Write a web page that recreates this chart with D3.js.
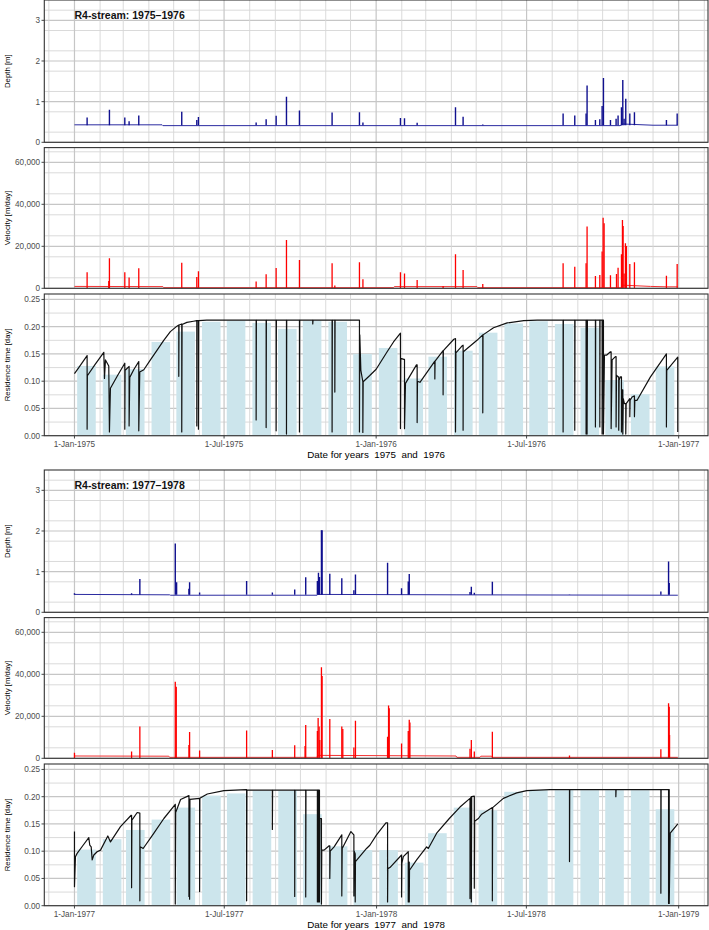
<!DOCTYPE html>
<html><head><meta charset="utf-8">
<script src="https://cdn.jsdelivr.net/npm/d3@7"></script>
<style>
body{margin:0;background:#fff}
text{font-family:"Liberation Sans",Arial,sans-serif}
</style>
</head><body>
<svg id="c" width="709" height="930" xmlns="http://www.w3.org/2000/svg"></svg>
<script>
// ---------------- DATA (day = days since 1 Jan of first year) ----------------
const groupYears = [1975, 1977];
const groupTitles = ["R4-stream: 1975\u20131976", "R4-stream: 1977\u20131978"];
const xTitles = ["Date for years  1975  and  1976", "Date for years  1977  and  1978"];
const xTickLabels7576 = ["1-Jan-1975","1-Jul-1975","1-Jan-1976","1-Jul-1976","1-Jan-1977"];
const xTickLabels7778 = ["1-Jan-1977","1-Jul-1977","1-Jan-1978","1-Jul-1978","1-Jan-1979"];
const depthTicks = [0,1,2,3];
const velTicks = [0,20000,40000,60000];
const resTicks = [0,0.05,0.10,0.15,0.20,0.25];
const depthBaseLevel = [0.42, 0.43];

// Depth [m]
const depthBase7576 = [[0,.43],[106,.43],[107,.41],[660,.41],[664,.45],[700,.42],[730,.42]];
const depthSpikes7576 = [[15.3,.61],[42.3,.80],[60.9,.61],[66.1,.52],[77.8,.66],[129.8,.75],[148,.55],[150,.62],
 [219.8,.49],[231.9,.57],[244,.65],[256.5,1.12],[272.2,.78],[311.7,.73],[344.8,.74],[349,.49],[394.4,.60],
 [399.3,.59],[414.6,.48],[461,.86],[470.2,.63],[494,.44],[591.2,.71],[605.3,.66],[619,.71],[620.2,1.40],
 [630.3,.55],[635.6,.57],[638.4,.89],[640,1.58],[648.5,.55],[655.3,.58],[657.7,.66],[661.8,.86],[663.4,1.53],
 [665,.58],[667,1.07],[671.9,.71],[677.5,.74],[716.2,.55],[729.2,.71]];
const depthBase7778 = [[0,.44],[115,.43],[116,.42],[293,.42],[294,.44],[461,.43],[729,.42]];
const depthSpikes7778 = [[0,.47],[69,.47],[79,.82],[121.8,1.69],[123.4,.74],[138.3,.58],[139.1,.74],[151.2,.49],
 [208,.77],[239.1,.49],[266.1,.56],[279.4,.86],[293.5,.77],[294.8,.97],[296,.87],[298.4,2.02],[299.2,2.02],
 [308.5,.95],[323,.84],[337.6,.54],[339.5,.93],[378.3,1.22],[395.2,.59],[403.3,.76],[404.5,.94],[477.9,.50],
 [479.5,.63],[483.1,.48],[504.9,.75],[598.1,.44],[708.5,.51],[717.8,1.25],[718.6,.72]];

// Velocity [m/day]
const velBase7576 = [[0,900],[107,800],[108,300],[386,300],[387,800],[487,800],[488,300],[662,300],[663,1500],[697,900],[717,700],[730,700]];
const velSpikes7576 = [[15.3,7600],[41.5,3500],[42.3,14300],[60.9,7600],[66.1,5200],[77.8,9500],[129.8,12200],
 [148,5400],[150,8100],[219.8,3200],[231.9,6700],[244,9700],[256.5,23000],[272.2,13500],[311.7,11900],[315,1300],
 [344.8,12400],[349,4300],[394.4,7600],[399.3,7100],[414.6,4000],[446,1100],[461,16200],[470.2,8700],[494,2100],
 [591.2,11900],[605.3,10300],[619,11900],[620.2,29400],[630.3,5900],[635.6,6300],[638.4,17500],[639.6,33600],
 [640.8,31000],[648.5,6200],[655.8,6800],[657.7,9800],[661.8,16200],[663,32500],[663.8,29700],[665,7100],
 [666.6,21400],[667.8,20200],[671.9,11600],[677.5,12400],[716.2,6000],[729.2,11600]];
const velBase7778 = [[0,1100],[114,1000],[115,450],[293,450],[294,1400],[461,1100],[462,450],[490,450],[491,1000],[504,1000],[505,450],[729,450]];
const velSpikes7778 = [[0,2700],[69,3200],[79,15100],[121.8,36500],[123,34100],[138.3,6300],[139.1,12500],
 [151.2,3700],[208,13200],[239.1,4000],[266.1,6200],[278.6,5900],[279.4,15900],[293.5,13000],[294.4,19200],
 [295.6,15100],[296.4,8700],[298.4,43300],[299.2,39200],[308.5,18700],[323,15100],[324.2,14000],[337.6,5100],
 [339.5,17900],[378.3,10300],[379.5,25200],[380.3,23800],[395.2,7100],[403.3,13000],[404.5,18300],[405.3,17000],
 [477.9,4600],[479.5,8700],[483.1,3200],[504.9,12700],[598.1,1300],[708.5,4300],[717.8,26200],[718.6,24600],[719,11100]];

// Residence time [day] - monthly means (bars)
const resBars7576 = [.128,.112,.122,.172,.191,.209,.211,.207,.196,.211,.209,.150,
                     .161,.105,.145,.156,.189,.206,.210,.205,.198,.102,.076,.127];
const resBars7778 = [.103,.122,.139,.158,.180,.202,.206,.211,.211,.168,.109,.102,
                     .102,.079,.133,.180,.175,.209,.212,.212,.212,.212,.212,.177];

// Residence time [day] - daily line
const resLine7576 = [[0,.114],[5.2,.125],[15.3,.147],[15.3,.012],[15.6,.110],[25,.131],[35.5,.153],[36.3,.105],
 [37.5,.139],[41.5,.128],[42.3,.007],[43.5,.087],[52,.110],[60.9,.133],[60.9,.012],[61.3,.120],[66.1,.127],
 [66.1,.018],[66.9,.107],[72,.122],[77.8,.136],[77.8,.009],[79,.117],[83.9,.121],[91.9,.139],[100,.157],
 [108,.175],[116,.191],[124,.201],[126.2,.203],[126.2,.109],[126.5,.203],[129.8,.205],[129.8,.007],[130.2,.204],
 [136,.208],[144,.210],[148,.211],[148,.018],[148.3,.211],[150,.211],[150,.012],[150.3,.211],[160,.212],
 [219.8,.212],[219.8,.029],[220.1,.212],[231.9,.212],[231.9,.015],[232.2,.212],[244,.212],[244,.009],[244.3,.212],
 [256.5,.212],[256.5,.003],[256.8,.212],[272.2,.212],[272.2,.007],[272.5,.212],[288.3,.212],[288.3,.205],
 [288.6,.212],[311.7,.212],[311.7,.007],[312,.212],[315,.212],[315,.080],[315.3,.212],[344.8,.212],[344.8,.007],
 [345.2,.185],[346.5,.120],[348.9,.099],[348.9,.006],[349.3,.099],[357,.110],[365,.122],[378.3,.154],[386,.172],
 [394.4,.188],[394.4,.013],[394.8,.142],[398.5,.140],[399.3,.140],[399.3,.013],[400.5,.096],[413.8,.130],
 [414.6,.130],[414.6,.024],[415,.100],[418,.098],[436,.137],[436,.104],[436.3,.137],[446,.156],[446,.075],
 [446.3,.156],[459,.177],[461,.178],[461,.007],[461.5,.152],[469,.165],[470.2,.166],[470.2,.010],[470.5,.154],
 [487,.175],[494,.185],[494,.042],[494.3,.185],[507,.198],[523.5,.207],[543.6,.211],[559.8,.212],
 [591.2,.212],[591.2,.007],[591.5,.212],[605.3,.212],[605.3,.010],[605.6,.212],[619,.212],[619,.003],[619.4,.212],
 [620.2,.212],[620.2,.003],[620.6,.212],[630.3,.212],[630.3,.016],[630.6,.212],[635.6,.212],[635.6,.016],
 [635.9,.212],[638.4,.212],[638.4,.003],[638.8,.212],[640,.212],[640,.003],[641.2,.148],[644,.148],[648.5,.154],
 [649.3,.154],[649.3,.013],[650.5,.139],[654.5,.145],[655.3,.145],[655.3,.016],[655.8,.111],[657.7,.108],
 [658.5,.108],[658.5,.010],[659,.102],[660.6,.108],[661.8,.108],[661.8,.007],[662.5,.084],[663.4,.084],
 [663.4,.003],[664,.068],[665.4,.059],[667,.059],[667,.003],[667.5,.059],[671.9,.068],[671.9,.035],[672.3,.065],
 [674.7,.071],[677.5,.073],[677.5,.035],[678,.065],[680.7,.065],[696.9,.108],[716.2,.150],[716.2,.016],
 [716.6,.120],[729.9,.144],[729.9,.007]];
const resLine7778 = [[0,.136],[0,.035],[1.2,.090],[3.2,.096],[10,.110],[17.3,.125],[18.5,.111],[20.2,.108],
 [21.4,.084],[23.4,.093],[27.4,.099],[31.5,.102],[40.3,.128],[43.5,.117],[55.6,.145],[68.5,.166],[69,.166],
 [69,.033],[69.4,.157],[75.8,.171],[79,.170],[79,.009],[79.4,.108],[83,.105],[96,.133],[108,.160],[121.8,.186],
 [121.8,.003],[122.3,.171],[128.2,.195],[138.3,.202],[138.3,.017],[138.6,.190],[139.1,.195],[139.1,.012],
 [139.5,.195],[151.2,.197],[151.2,.026],[151.5,.197],[160.5,.205],[180.6,.211],[208,.213],[208,.009],[208.4,.212],
 [239.1,.212],[239.1,.140],[239.4,.212],[266.1,.212],[266.1,.017],[266.4,.212],[279.4,.212],[279.4,.016],
 [279.7,.212],[293.5,.212],[293.5,.007],[293.8,.212],[294.8,.212],[294.8,.007],[295.1,.212],[296,.212],
 [296,.007],[296.5,.160],[298.4,.160],[298.4,.003],[298.8,.102],[301.6,.102],[307.7,.110],[308.5,.110],
 [308.5,.050],[309,.100],[313.7,.108],[323,.130],[323,.018],[323.5,.105],[334,.136],[337.6,.130],[337.6,.018],
 [338,.100],[339.2,.095],[339.2,.007],[339.5,.081],[352.9,.105],[356.9,.111],[365,.130],[376.3,.152],
 [378.3,.152],[378.3,.007],[378.6,.068],[381.1,.070],[395.2,.093],[395.2,.016],[395.6,.078],[397.3,.090],
 [403.3,.099],[403.3,.007],[403.6,.080],[404.5,.080],[404.5,.007],[404.8,.065],[413.4,.084],[425.5,.108],
 [427.5,.105],[437.6,.133],[452.9,.160],[465.8,.181],[477.9,.197],[477.9,.013],[478.3,.197],[479.5,.200],
 [479.5,.007],[479.9,.200],[483.1,.201],[483.1,.032],[483.5,.155],[488,.160],[492,.168],[504.9,.180],
 [504.9,.009],[505.3,.180],[518.2,.197],[534.4,.207],[546.5,.211],[574.7,.213],
 [598.1,.213],[598.1,.081],[598.4,.213],[654.1,.213],[654.1,.200],[654.4,.213],[708.5,.213],[708.5,.023],
 [708.8,.213],[717.8,.213],[717.8,.004],[718.2,.213],[718.6,.213],[718.6,.004],[719.8,.133],[729,.150]];

// ---------------- CHART ----------------
const groups = [
  {year:groupYears[0], title:groupTitles[0], xTitle:xTitles[0], xTicks:xTickLabels7576,
   dBase:depthBase7576, dSp:depthSpikes7576, dLvl:depthBaseLevel[0],
   vBase:velBase7576, vSp:velSpikes7576, bars:resBars7576, res:resLine7576},
  {year:groupYears[1], title:groupTitles[1], xTitle:xTitles[1], xTicks:xTickLabels7778,
   dBase:depthBase7778, dSp:depthSpikes7778, dLvl:depthBaseLevel[1],
   vBase:velBase7778, vSp:velSpikes7778, bars:resBars7778, res:resLine7778}
];

const svg = d3.select("#c");
svg.append("rect").attr("width",709).attr("height",930).attr("fill","#fff");
const X0 = 44.3, X1 = 708;
const groupTop = [0, 470];
const panels = {depth:[0,142.3], vel:[147.6,288.3], res:[294,435.7]};
const DAY = 864e5;
const parseTick = d3.utcParse("%d-%b-%Y");
const GRID_MAJ = "#c6c6c6", GRID_MIN = "#d6d6d6";
const TICK_COL = "#4d4d4d";

groups.forEach((g, gi) => {
  const oy = groupTop[gi];
  const t0 = Date.UTC(g.year,0,1), t1 = Date.UTC(g.year+1,11,31);
  const pad = (t1 - t0) * 0.05;
  const x = d3.scaleUtc().domain([new Date(t0 - pad), new Date(t1 + pad)]).range([X0, X1]);
  const dd = d => new Date(t0 + d*DAY);
  const months = d3.utcMonth.range(x.domain()[0], x.domain()[1]);

  function panel(key, domain, ticks, fmt, title, minorStep) {
    const [pt, pb] = panels[key];
    const top = oy + pt, bot = oy + pb;
    const y = d3.scaleLinear().domain(domain).range([bot, top]);
    const gp = svg.append("g");
    const cid = `clip-${gi}-${key}`;
    svg.append("clipPath").attr("id", cid).append("rect")
      .attr("x", X0).attr("y", top).attr("width", X1 - X0).attr("height", bot - top);
    const grid = gp.append("g");
    const minors = d3.range(domain[0] + minorStep/2, domain[1] + 1e-9, minorStep)
      .filter(v => !ticks.some(t => Math.abs(t - v) < 1e-9));
    grid.selectAll(".hm").data(minors).join("line")
      .attr("x1", X0).attr("x2", X1).attr("y1", d => y(d)).attr("y2", d => y(d))
      .attr("stroke", GRID_MIN).attr("stroke-width", 0.9);
    grid.selectAll(".hM").data(ticks).join("line")
      .attr("x1", X0).attr("x2", X1).attr("y1", d => y(d)).attr("y2", d => y(d))
      .attr("stroke", GRID_MAJ).attr("stroke-width", 1.2);
    grid.selectAll(".v").data(months).join("line")
      .attr("x1", d => x(d)).attr("x2", d => x(d)).attr("y1", top).attr("y2", bot)
      .attr("stroke", d => (d.getUTCMonth() % 6 === 0) ? GRID_MAJ : GRID_MIN)
      .attr("stroke-width", d => (d.getUTCMonth() % 6 === 0) ? 1.2 : 0.9);
    const plot = gp.append("g").attr("clip-path", `url(#${cid})`);
    const ax = gp.append("g");
    ax.selectAll("line").data(ticks).join("line")
      .attr("x1", X0 - 2.8).attr("x2", X0).attr("y1", d => y(d)).attr("y2", d => y(d))
      .attr("stroke", "#333").attr("stroke-width", 0.9);
    ax.selectAll("text").data(ticks).join("text")
      .attr("x", X0 - 4.2).attr("y", d => y(d)).attr("dy", "0.35em")
      .attr("text-anchor", "end").attr("font-size", 8.2).attr("fill", TICK_COL)
      .text(fmt);
    svg.append("text").attr("transform", `translate(9.5,${(top + bot)/2}) rotate(-90)`)
      .attr("text-anchor", "middle").attr("font-size", 7.8).attr("fill", "#000").text(title);
    return {y, plot, top, bot, border: () => gp.append("rect").attr("x", X0).attr("y", top)
      .attr("width", X1 - X0).attr("height", bot - top).attr("fill", "none")
      .attr("stroke", "#333").attr("stroke-width", 1.1)};
  }

  // ---- Depth
  const pd = panel("depth", [0, 3.5], depthTicks, d3.format("d"), "Depth [m]", 0.5);
  const lineD = d3.line().x(d => x(dd(d[0]))).y(d => pd.y(d[1]));
  pd.plot.append("path").datum(g.dBase).attr("d", lineD).attr("fill", "none")
    .attr("stroke", "#2b2ba0").attr("stroke-width", 1);
  pd.plot.selectAll(".sp").data(g.dSp).join("line")
    .attr("x1", d => x(dd(d[0]))).attr("x2", d => x(dd(d[0])))
    .attr("y1", pd.y(g.dLvl)).attr("y2", d => pd.y(d[1]))
    .attr("stroke", "#10108f").attr("stroke-width", 1.4);
  pd.border();
  svg.append("text").attr("x", x(dd(0))).attr("y", oy + 19)
    .attr("font-size", 10.5).attr("font-weight", "bold").attr("fill", "#111").text(g.title);

  // ---- Velocity
  const pv = panel("vel", [0, 67000], velTicks, d3.format(","), "Velocity [m/day]", 10000);
  const lineV = d3.line().x(d => x(dd(d[0]))).y(d => pv.y(d[1]));
  pv.plot.append("path").datum(g.vBase).attr("d", lineV).attr("fill", "none")
    .attr("stroke", "#f23030").attr("stroke-width", 1);
  pv.plot.selectAll(".sp").data(g.vSp).join("line")
    .attr("x1", d => x(dd(d[0]))).attr("x2", d => x(dd(d[0])))
    .attr("y1", pv.y(0)).attr("y2", d => pv.y(d[1]))
    .attr("stroke", "#ff0000").attr("stroke-width", 1.3);
  pv.border();

  // ---- Residence time
  const pr = panel("res", [0, 0.26], resTicks, d3.format(".2f"), "Residence time [day]", 0.05);
  const barMonths = d3.range(24).map(i => new Date(Date.UTC(g.year, i, 1)));
  pr.plot.selectAll(".bar").data(g.bars).join("rect")
    .attr("x", (d, i) => x(new Date(+barMonths[i] + 3.25*DAY)))
    .attr("width", (d, i) => x(new Date(+barMonths[i] + 25.75*DAY)) - x(new Date(+barMonths[i] + 3.25*DAY)))
    .attr("y", d => pr.y(d)).attr("height", d => pr.y(0) - pr.y(d))
    .attr("fill", "#cce5ec");
  const lineR = d3.line().x(d => x(dd(d[0]))).y(d => pr.y(d[1]));
  pr.plot.append("path").datum(g.res).attr("d", lineR).attr("fill", "none")
    .attr("stroke", "#111").attr("stroke-width", 1.2).attr("stroke-linejoin", "round");
  pr.border();

  // x axis
  const xt = g.xTicks.map(s => parseTick(s));
  const xa = svg.append("g");
  xa.selectAll("line").data(xt).join("line")
    .attr("x1", d => x(d)).attr("x2", d => x(d)).attr("y1", pr.bot).attr("y2", pr.bot + 2.8)
    .attr("stroke", "#333").attr("stroke-width", 0.9);
  xa.selectAll("text").data(g.xTicks).join("text")
    .attr("x", (d, i) => x(xt[i])).attr("y", oy + 446.7)
    .attr("text-anchor", "middle").attr("font-size", 8.2).attr("fill", TICK_COL).text(d => d);
  svg.append("text").attr("x", (X0 + X1)/2).attr("y", oy + 458)
    .attr("text-anchor", "middle").attr("font-size", 9.8).attr("fill", "#000")
    .style("white-space", "pre").text(g.xTitle);
});
</script>
</body></html>
